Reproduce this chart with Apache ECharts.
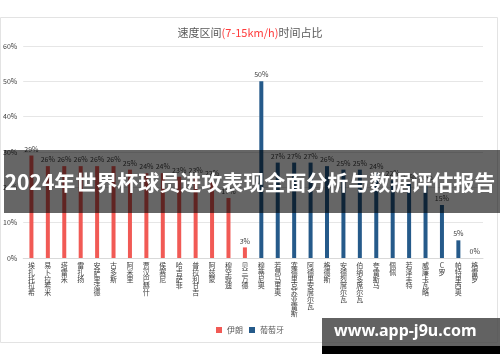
<!DOCTYPE html>
<html><head><meta charset="utf-8">
<script src="https://cdn.jsdelivr.net/npm/echarts@6/dist/echarts.min.js"></script>
<style>html,body{margin:0;padding:0;background:#fff}#c{width:500px;height:362px}</style>
</head><body><div id="c"></div>
<script>
var categories = ['埃扎托拉希','易卜拉希米','塔雷米','雷扎扬','安萨里法德','古多斯','阿米里','贾汉巴赫什','侯赛尼','哈吉萨菲','普拉利甘吉','阿兹蒙','穆罕默迪','贝兰万德',
  '穆蒂尼奥','若昂马里奥','塞德里克苏亚雷斯','阿德里安席尔瓦','格德斯','安德烈席尔瓦','伯纳多席尔瓦','夸雷斯马','佩佩','若泽丰特','威廉卡瓦略','C罗','帕特里西奥','格雷罗'];
var iranValues = [29,26,26,26,26,26,25,24,24,23,23,22,17,3];
var portugalValues = [50,27,27,27,26,25,25,24,22,21,21,15,5,0];
var yTicks = [0,10,20,30,40,50,60];

var iranData = categories.map(function(c,i){ return i < iranValues.length ? iranValues[i] : '-'; });
var portugalData = categories.map(function(c,i){ return i >= iranValues.length ? portugalValues[i-iranValues.length] : '-'; });

var chart = echarts.init(document.getElementById('c'));
var lbl = {show:true, position:'top', formatter:'{c}%', fontSize:7, color:'#404040', distance:3, fontFamily:'Noto Sans CJK SC'};
chart.setOption({
  animation:false,
  textStyle:{fontFamily:'Noto Sans CJK SC'},
  title:{
    text:'速度区间{r|(7-15km/h)}时间占比', left:'center', top:22,
    textStyle:{fontSize:11, color:'#595959', fontWeight:'normal', rich:{r:{fontSize:11,color:'#ff3b3b'}}}
  },
  legend:{bottom:23, left:'center', itemWidth:6, itemHeight:6, itemGap:6, icon:'rect',
    textStyle:{fontSize:8, color:'#595959'}, data:['伊朗','葡萄牙']},
  grid:{left:22, right:17, top:46, bottom:104},
  xAxis:{type:'category', data:categories,
    axisLine:{lineStyle:{color:'#d9d9d9'}}, axisTick:{show:false},
    axisLabel:{interval:0, fontSize:7, lineHeight:6.8, color:'#404040', margin:4, verticalAlign:'top',
      formatter:function(v){ return v.split('').join('\n'); }}},
  yAxis:{type:'value', min:0, max:60, interval:10,
    axisLabel:{formatter:'{value}%', fontSize:7, color:'#404040', margin:6},
    splitLine:{lineStyle:{color:'#e6e6e6'}}, axisLine:{show:false}, axisTick:{show:false}},
  series:[
    {name:'伊朗', type:'bar', data:iranData, barWidth:4, barGap:'-100%', itemStyle:{color:'#f15a55'}, label:lbl},
    {name:'葡萄牙', type:'bar', data:portugalData, barWidth:4, itemStyle:{color:'#255a8a'}, label:lbl}
  ],
  graphic:[
    {type:'rect', shape:{x:0.5,y:17.5,width:497,height:325}, style:{fill:'none', stroke:'#e3e3e3', lineWidth:1}, z:-1},
    {type:'rect', shape:{x:4,y:150,width:496,height:63}, style:{fill:'rgba(0,0,0,0.6)'}, z:100},
    {type:'text', left:'center', top:172, style:{text:'2024年世界杯球员进攻表现全面分析与数据评估报告', fill:'#fff', fontSize:21, fontWeight:'bold', fontFamily:'Noto Sans CJK SC'}, z:101},
    {type:'rect', shape:{x:322,y:318,width:178,height:28}, style:{fill:'rgba(70,70,70,0.85)'}, z:100},
    {type:'rect', shape:{x:322,y:346,width:178,height:8}, style:{fill:'#000'}, z:100},
    {type:'text', left:334, top:323, style:{text:'www.app-j9u.com', fill:'#fff', fontSize:16, fontWeight:'bold', fontFamily:'Noto Sans'}, z:101}
  ]
});
</script></body></html>
